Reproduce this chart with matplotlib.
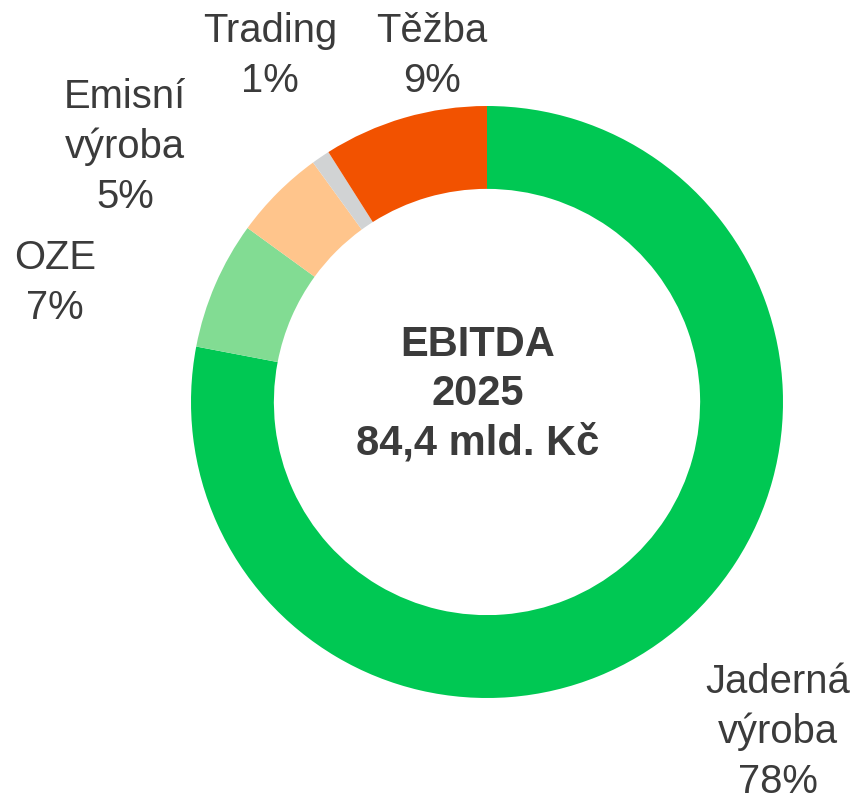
import matplotlib.pyplot as plt

plt.rcParams['font.family'] = ['Liberation Sans', 'DejaVu Sans']

segments = ['Jaderná\nvýroba', 'OZE', 'Emisní\nvýroba', 'Trading', 'Těžba']
shares = [78, 7, 5, 1, 9]
colors = ['#00C853', '#82DC93', '#FFC58C', '#D1D3D4', '#F25200']
center_lines = ['EBITDA', '2025', '84,4 mld. Kč']

# label block centres in pixels (x from left, y from top), converted below
label_px = [(778, 732), (55, 283), (125, 147), (270, 56), (432, 56)]

W, H = 861, 802
cx, cy, R = 487, 402, 296
txt_col = '#3B3B3B'

fig = plt.figure(figsize=(W / 100, H / 100), dpi=100)
ax = fig.add_axes([0, 0, 1, 1])

ax.pie(shares, colors=colors, startangle=90, counterclock=False,
       radius=1, wedgeprops=dict(width=0.28, linewidth=0))

ax.set_xlim(-cx / R, (W - cx) / R)
ax.set_ylim(-(H - cy) / R, cy / R)
ax.set_aspect('equal')
ax.axis('off')

for name, val, (px, py) in zip(segments, shares, label_px):
    ax.text((px - cx) / R, (cy - py) / R, f'{name}\n{val}%',
            ha='center', va='center', fontsize=28.8, color=txt_col,
            linespacing=1.4)

ax.text((478 - cx) / R, (cy - 394) / R, '\n'.join(center_lines),
        ha='center', va='center', fontsize=30, fontweight='bold',
        color=txt_col, linespacing=1.3)

fig.savefig('out.png', dpi=100)
